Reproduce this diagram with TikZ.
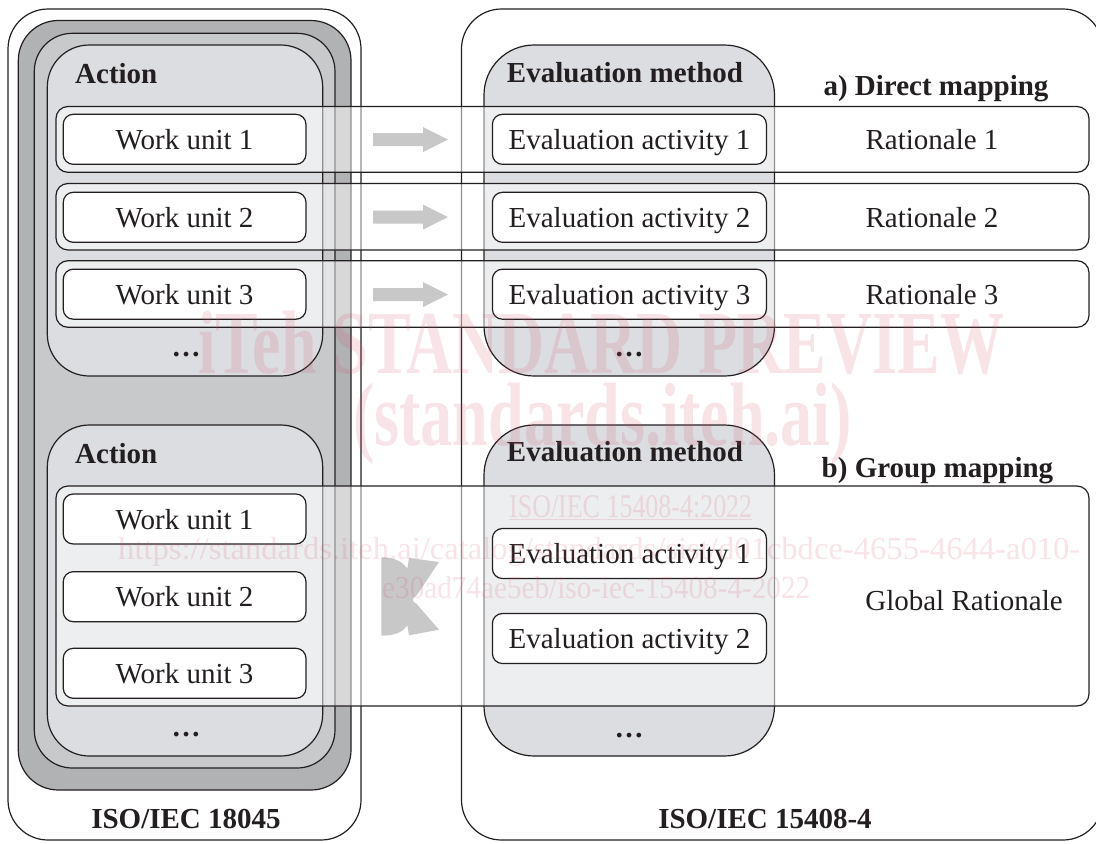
\documentclass[tikz,border=0pt]{standalone}
\usepackage{fontspec}
\setmainfont{Liberation Serif}
\usetikzlibrary{arrows.meta}
\definecolor{lineblk}{HTML}{231F20}
\definecolor{darkg}{HTML}{B1B2B4}
\definecolor{midg}{HTML}{C8C9CB}
\definecolor{lightg}{HTML}{DCDDE0}
\definecolor{arrowg}{HTML}{C8C8C8}
\definecolor{wmpink}{HTML}{D4546F}
\begin{document}
\begin{tikzpicture}[x=1pt,y=-1pt,
  every node/.style={font=\fontsize{29pt}{34pt}\selectfont, text=lineblk, inner sep=0pt},
  frame/.style={draw=lineblk, line width=1.2pt},
  band/.style={frame, fill=white, fill opacity=0.5, rounded corners=12pt},
  itembox/.style={frame, fill=white, rounded corners=10pt, text height=20pt, text depth=0pt, minimum height=50pt},
  wubox/.style={itembox, minimum width=242.7pt},
  eabox/.style={itembox, minimum width=274pt},
  lbl/.style={anchor=base},
  head/.style={font=\fontsize{29pt}{34pt}\selectfont\bfseries, anchor=base},
  blockarrow/.style={fill=arrowg},
  wm/.style={text=wmpink, text opacity=0.16, anchor=base west}
]
\useasboundingbox (0,0) rectangle (1096,844);
\begin{scope}
\clip (0,0) rectangle (1096,844);
% left column containers
\path[frame, fill=white, rounded corners=40pt] (8,9) rectangle (361,840);
\path[frame, fill=darkg, rounded corners=40pt] (18.3,20.5) rectangle (351,790);
\path[frame, fill=midg, rounded corners=38pt] (34.3,33.3) rectangle (335,768);
\path[frame, fill=lightg, rounded corners=42pt] (47.3,45) rectangle (322.7,376);
\path[frame, fill=lightg, rounded corners=42pt] (47.3,425) rectangle (322.7,756);
% right column containers
\path[frame, fill=white, rounded corners=40pt] (461.5,9) rectangle (1103,840);
\path[frame, fill=lightg, rounded corners=50pt] (484,45) rectangle (774.5,376);
\path[frame, fill=lightg, rounded corners=50pt] (484,425) rectangle (774.5,756);
% bands
\path[band] (56,106.5) rectangle (1089,172.3);
\path[band] (56,183.5) rectangle (1089,250);
\path[band] (56,260.7) rectangle (1089,327.3);
\path[band] (56,486) rectangle (1089,706);
% block arrows
\foreach \yy in {139.5,217,294.5}{
  \fill[blockarrow] (373,\yy-6.5) -- (423,\yy-6.5) -- (423,\yy-12.5) -- (448,\yy) -- (423,\yy+12.5) -- (423,\yy+6.5) -- (373,\yy+6.5) -- cycle;
}
% group mapping arrows (two crossed curved arrows)
\fill[blockarrow] (381.3,557.3) .. controls (395,557.3) and (403,562) .. (407.3,568.7)
  -- (409,558) -- (439,562) -- (416.7,595.3)
  .. controls (411.5,598) and (411.5,601.5) .. (416.7,604)
  -- (439,629.7) -- (409,635.3) -- (407.3,625.3)
  .. controls (403,632) and (395,635.7) .. (381.3,635.7) -- cycle;
\end{scope}
% item boxes
\node[wubox] (wua1) at (184.6,139.3) {Work unit 1};
\node[wubox] (wua2) at (184.6,217.3) {Work unit 2};
\node[wubox] (wua3) at (184.6,294.2) {Work unit 3};
\node[wubox] (wub1) at (184.6,519) {Work unit 1};
\node[wubox] (wub2) at (184.6,596.7) {Work unit 2};
\node[wubox] (wub3) at (184.6,673.3) {Work unit 3};
\node[eabox] (eaa1) at (629.4,139.3) {Evaluation activity 1};
\node[eabox] (eaa2) at (629.4,217.3) {Evaluation activity 2};
\node[eabox] (eaa3) at (629.4,294.2) {Evaluation activity 3};
\node[eabox] (eab1) at (629.4,553.5) {Evaluation activity 1};
\node[eabox] (eab2) at (629.4,638.5) {Evaluation activity 2};
% labels
\node[lbl] (ra1) at (932,149.3) {Rationale 1};
\node[lbl] (ra2) at (932,227.3) {Rationale 2};
\node[lbl] (ra3) at (932,304.2) {Rationale 3};
\node[lbl] (grat) at (964,610) {Global Rationale};
\node[head, anchor=base west] (act1) at (75,83) {Action};
\node[head, anchor=base west] (act2) at (75,463) {Action};
\node[head] (em1) at (625,82) {Evaluation method};
\node[head] (em2) at (625,461) {Evaluation method};
\node[head] (dm) at (936,95) {a) Direct mapping};
\node[head] (gm) at (937.5,477) {b) Group mapping};
\node[head] (iso1) at (186,828) {ISO/IEC 18045};
\node[head] (iso2) at (765,828) {ISO/IEC 15408-4};
\node[head] (dl1) at (186,356) {\ldots};
\node[head] (dl2) at (186,736) {\ldots};
\node[head] (dr1) at (629,356) {\ldots};
\node[head] (dr2) at (629,737) {\ldots};
% watermark
\node[wm, font=\fontsize{90pt}{100pt}\selectfont\bfseries] (wm1) at (198,373) {\resizebox{806pt}{\height}{iTeh STANDARD PREVIEW}};
\node[wm, font=\fontsize{90pt}{100pt}\selectfont\bfseries] (wm2) at (353,445) {\resizebox{499pt}{\height}{(standards.iteh.ai)}};
\node[wm, font=\fontsize{33pt}{38pt}\selectfont] (wm3) at (509,517) {\resizebox{243pt}{\height}{\underline{ISO/IEC 15408-4:2022}}};
\node[wm, font=\fontsize{32pt}{38pt}\selectfont] (wm4) at (118,559) {\resizebox{962pt}{\height}{https://standards.iteh.ai/catalog/standards/sist/d01cbdce-4655-4644-a010-}};
\node[wm, font=\fontsize{32pt}{38pt}\selectfont] (wm5) at (382,598) {\resizebox{428pt}{\height}{e30ad74ae5eb/iso-iec-15408-4-2022}};
\end{tikzpicture}
\end{document}
